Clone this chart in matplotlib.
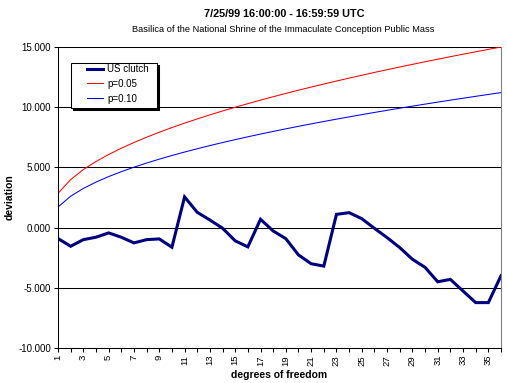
import numpy as np
import matplotlib
matplotlib.use('Agg')
import matplotlib.pyplot as plt
from matplotlib.patches import Rectangle

plt.rcParams['font.family'] = ['Liberation Sans', 'DejaVu Sans']

# degrees of freedom
dof = list(range(1, 37))

# observed deviation (chi-square minus dof) for the US clutch
us_clutch = [-0.91, -1.55, -1.00, -0.80, -0.44, -0.80, -1.27, -1.00, -0.94, -1.63,
             2.55, 1.27, 0.63, -0.05, -1.10, -1.60, 0.69, -0.28, -0.92, -2.27,
             -3.00, -3.20, 1.10, 1.24, 0.74, -0.06, -0.83, -1.66, -2.63, -3.30,
             -4.50, -4.30, -5.27, -6.23, -6.23, -4.00]

# critical chi-square minus dof
p05 = [2.841, 3.991, 4.815, 5.488, 6.070, 6.592, 7.067, 7.507, 7.919, 8.307,
       8.675, 9.026, 9.362, 9.685, 9.996, 10.296, 10.587, 10.869, 11.144, 11.410,
       11.671, 11.924, 12.172, 12.415, 12.652, 12.885, 13.113, 13.337, 13.557, 13.773,
       13.985, 14.194, 14.400, 14.602, 14.802, 14.998]
p10 = [1.706, 2.605, 3.251, 3.779, 4.236, 4.645, 5.017, 5.362, 5.684, 5.987,
       6.275, 6.549, 6.812, 7.064, 7.307, 7.542, 7.769, 7.989, 8.204, 8.412,
       8.615, 8.813, 9.007, 9.196, 9.382, 9.563, 9.741, 9.916, 10.087, 10.256,
       10.422, 10.585, 10.745, 10.903, 11.059, 11.212]

W, H = 507, 383
fig = plt.figure(figsize=(W / 100, H / 100), dpi=100)
ax = fig.add_axes([58 / W, 1 - 348 / H, 443 / W, 301 / H])

l1, = ax.plot(dof, us_clutch, color='#000080', lw=2.2, label='US clutch', solid_joinstyle='miter')
l2, = ax.plot(dof, p05, color='#ff0000', lw=0.75, label='p=0.05')
l3, = ax.plot(dof, p10, color='#0000ff', lw=0.75, label='p=0.10')

ax.set_xlim(1, 36)
ax.set_ylim(-10, 15)
ax.set_yticks(np.arange(-10, 16, 5))
ax.set_yticklabels(['%.3f' % v for v in np.arange(-10, 16, 5)], fontsize=7)
ax.set_xticks(dof)
ax.set_xticklabels([str(d) if d % 2 == 1 else '' for d in dof], rotation=90, fontsize=6.8)
ax.tick_params(axis='both', direction='out', length=3, width=0.75, pad=2, colors='black')
ax.yaxis.grid(True, color='black', lw=0.75)
ax.set_axisbelow(True)

ax.spines['top'].set_visible(False)
ax.spines['right'].set_color('#808080')
ax.spines['left'].set_linewidth(0.75)
ax.spines['bottom'].set_linewidth(0.75)

ax.set_xlabel('degrees of freedom', fontsize=7.5, fontweight='bold', labelpad=3)
ax.set_ylabel('deviation', fontsize=7.5, fontweight='bold')
ax.yaxis.set_label_coords((15 - 58) / 443, (348 - 197) / 301)

fig.text(284 / W, 1 - 14 / H, '7/25/99 16:00:00 - 16:59:59 UTC', ha='center', va='center',
         fontsize=7.8, fontweight='bold')
fig.text(283 / W, 1 - 29.5 / H, 'Basilica of the National Shrine of the Immaculate Conception Public Mass',
         ha='center', va='center', fontsize=6.7)

# legend box with a hard black shadow, like the old spreadsheet chart
bx, by, bw, bh = 71, 63, 85.5, 45
fig.add_artist(Rectangle(((bx + 2) / W, 1 - (by + bh + 2) / H), bw / W, bh / H,
                         transform=fig.transFigure, fc='black', ec='black', lw=0.75, zorder=3))
fig.add_artist(Rectangle((bx / W, 1 - (by + bh) / H), bw / W, bh / H,
                         transform=fig.transFigure, fc='white', ec='black', lw=0.75, zorder=4))
fig.legend([l1, l2, l3], ['US clutch', 'p=0.05', 'p=0.10'], loc='upper left',
           bbox_to_anchor=(87 / W, 1 - 64 / H), borderaxespad=0, borderpad=0, frameon=False,
           fontsize=7, handlelength=1.65, handletextpad=0.45, labelspacing=0.5)

fig.savefig('out.png', dpi=100)
